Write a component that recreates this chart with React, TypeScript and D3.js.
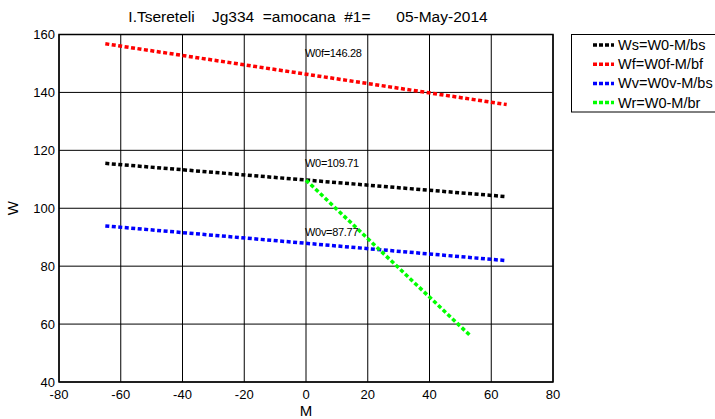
import React, { useEffect, useRef } from "react";
import * as d3 from "d3";

// endpoints: [M, W]
const seriesNames = ["Ws=W0-M/bs", "Wf=W0f-M/bf", "Wv=W0v-M/bs", "Wr=W0-M/br"];
const seriesColors = ["#000000", "#ff0000", "#0000ff", "#00ff00"];
const wsPoints: [number, number][] = [[-65, 115.5], [65, 104.0]];
const wfPoints: [number, number][] = [[-65, 156.8], [65, 135.8]];
const wvPoints: [number, number][] = [[-65, 93.9], [65, 81.9]];
const wrPoints: [number, number][] = [[0, 109.71], [53.5, 55.7]];

// annotation text and where it sits
const annotations = ["W0f=146.28", "W0=109.71", "W0v=87.77"];
const annotationPos: [number, number][] = [[0, 153.4], [0, 115.5], [0, 91.9]];

const xTicks = [-80, -60, -40, -20, 0, 20, 40, 60, 80];
const yTicks = [40, 60, 80, 100, 120, 140, 160];
const title = "I.Tsereteli    Jg334  =amocana  #1=      05-May-2014";

export default function App() {
  const svgRef = useRef<SVGSVGElement>(null);

  useEffect(() => {
    const width = 715;
    const height = 419;
    const margin = { top: 34.5, right: 162, bottom: 37, left: 59 };
    const font = "Liberation Sans, Arial, sans-serif";

    const svg = d3.select(svgRef.current);
    svg.selectAll("*").remove();
    svg.attr("width", width).attr("height", height);

    svg.append("rect").attr("width", width).attr("height", height).attr("fill", "#fff");

    const x = d3.scaleLinear().domain([-80, 80]).range([margin.left, width - margin.right]);
    const y = d3.scaleLinear().domain([40, 160]).range([height - margin.bottom, margin.top]);

    // grid
    const grid = svg.append("g");
    xTicks.forEach(t => {
      grid.append("line")
        .attr("x1", x(t)).attr("x2", x(t))
        .attr("y1", y(40)).attr("y2", y(160))
        .attr("stroke", "#000").attr("stroke-width", 1);
    });
    yTicks.forEach(t => {
      grid.append("line")
        .attr("x1", x(-80)).attr("x2", x(80))
        .attr("y1", y(t)).attr("y2", y(t))
        .attr("stroke", "#000").attr("stroke-width", 1);
    });

    // box
    svg.append("rect")
      .attr("x", x(-80)).attr("y", y(160))
      .attr("width", x(80) - x(-80)).attr("height", y(40) - y(160))
      .attr("fill", "none").attr("stroke", "#000").attr("stroke-width", 1.5);

    // tick labels
    svg.append("g").selectAll("text").data(xTicks).join("text")
      .attr("x", d => x(d)).attr("y", y(40) + 17)
      .attr("text-anchor", "middle")
      .style("font-family", font).style("font-size", "13px")
      .text(d => d);

    svg.append("g").selectAll("text").data(yTicks).join("text")
      .attr("x", x(-80) - 4).attr("y", d => y(d) + 4.5)
      .attr("text-anchor", "end")
      .style("font-family", font).style("font-size", "13px")
      .text(d => d);

    svg.append("text")
      .attr("x", x(0)).attr("y", height - 3)
      .attr("text-anchor", "middle")
      .style("font-family", font).style("font-size", "15px")
      .text("M");

    svg.append("text")
      .attr("transform", `translate(18,${y(100)}) rotate(-90)`)
      .attr("text-anchor", "middle")
      .style("font-family", font).style("font-size", "15px")
      .text("W");

    svg.append("text")
      .attr("x", (x(-80) + x(80)) / 2 + 2).attr("y", 22)
      .attr("text-anchor", "middle")
      .attr("xml:space", "preserve")
      .style("white-space", "pre")
      .style("font-family", font).style("font-size", "15.5px")
      .text(title);

    // lines
    const line = d3.line<[number, number]>().x(d => x(d[0])).y(d => y(d[1]));
    const allSeries = [wsPoints, wfPoints, wvPoints, wrPoints];
    allSeries.forEach((pts, i) => {
      svg.append("path")
        .attr("d", line(pts))
        .attr("fill", "none")
        .attr("stroke", seriesColors[i])
        .attr("stroke-width", 3.5)
        .attr("stroke-dasharray", "4,2.5");
    });

    // annotations
    annotations.forEach((a, i) => {
      svg.append("text")
        .attr("x", x(annotationPos[i][0]) - 1)
        .attr("y", y(annotationPos[i][1]))
        .attr("dy", "0.35em")
        .style("font-family", font).style("font-size", "11px")
        .style("letter-spacing", "-0.3px")
        .text(a);
    });

    // legend
    const lg = svg.append("g");
    lg.append("rect")
      .attr("x", 571.5).attr("y", 34.5)
      .attr("width", 160).attr("height", 77.5)
      .attr("fill", "#fff").attr("stroke", "#000").attr("stroke-width", 1);
    seriesNames.forEach((n, i) => {
      const ly = 45 + i * 19.2;
      lg.append("line")
        .attr("x1", 593).attr("x2", 614)
        .attr("y1", ly).attr("y2", ly)
        .attr("stroke", seriesColors[i])
        .attr("stroke-width", 3.5)
        .attr("stroke-dasharray", "4,2");
      lg.append("text")
        .attr("x", 618).attr("y", ly + 5)
        .style("font-family", font).style("font-size", "14.5px")
        .text(n);
    });
  }, []);

  return (
    <svg ref={svgRef} style={{ position: "absolute", left: 0, top: 0, display: "block" }} />
  );
}
